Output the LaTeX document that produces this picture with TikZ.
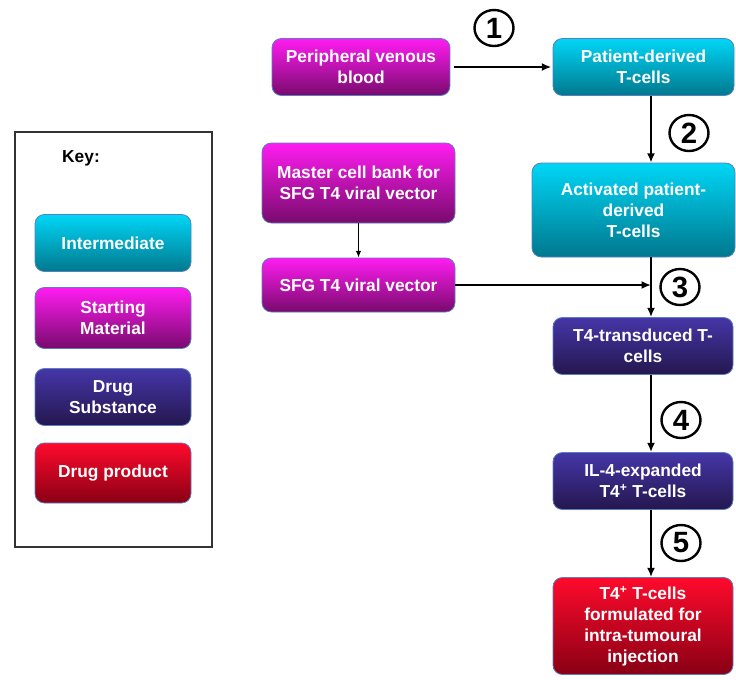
\documentclass[tikz,border=0pt]{standalone}
\usepackage{fontspec}
\setmainfont{Liberation Sans}
\usetikzlibrary{arrows.meta,shapes.geometric}
\definecolor{cyanT}{HTML}{00D6F6}
\definecolor{cyanB}{HTML}{00788E}
\definecolor{magT}{HTML}{FF1CF2}
\definecolor{magB}{HTML}{780A6C}
\definecolor{dsT}{HTML}{4536A8}
\definecolor{dsB}{HTML}{24174E}
\definecolor{redT}{HTML}{FF0A2C}
\definecolor{redB}{HTML}{880014}
\definecolor{edgeC}{HTML}{5A7FC0}
\tikzset{
  boxbase/.style={rounded corners=7pt, draw=edgeC, line width=0.6pt, align=center,
    text=white, font=\bfseries\fontsize{13}{15.8}\selectfont, inner sep=1pt},
  interbox/.style={boxbase, top color=cyanT, bottom color=cyanB},
  startbox/.style={boxbase, top color=magT, bottom color=magB},
  subsbox/.style={boxbase, top color=dsT, bottom color=dsB},
  prodbox/.style={boxbase, top color=redT, bottom color=redB},
  flow/.style={line width=1.6pt, -{Latex[length=7pt,width=6pt]}},
  thinflow/.style={line width=0.8pt, -{Latex[length=5pt,width=4pt]}},
  stepnum/.style={ellipse, draw=black, line width=1.8pt, minimum width=39*0.75pt,
    minimum height=36*0.75pt, inner sep=0pt, font=\bfseries\fontsize{22}{22}\selectfont}
}
\begin{document}
\begin{tikzpicture}[x=0.75pt, y=-0.75pt]
\useasboundingbox (0,0) rectangle (736,679);
% key
\node[draw=black!80, line width=1pt, minimum width=197*0.75pt, minimum height=415*0.75pt, inner sep=0pt] (keybox) at (113.5,339.5) {};
\node[font=\bfseries\fontsize{13}{15}\selectfont] (keylbl) at (81,158) {Key:};
\node[interbox, minimum width=156*0.75pt, minimum height=57*0.75pt] (kint) at (113,243) {Intermediate};
\node[startbox, minimum width=156*0.75pt, minimum height=61*0.75pt] (kst) at (113,318) {Starting\\Material};
\node[subsbox, minimum width=156*0.75pt, minimum height=57*0.75pt] (kds) at (113,397) {Drug\\Substance};
\node[prodbox, minimum width=156*0.75pt, minimum height=60*0.75pt] (kdp) at (113,473) {Drug product};
% flow nodes
\node[startbox, minimum width=178*0.75pt, minimum height=57*0.75pt] (pvb) at (361,67) {Peripheral venous\\blood};
\node[interbox, minimum width=181*0.75pt, minimum height=57*0.75pt] (pdt) at (643.5,67) {Patient-derived\\T-cells};
\node[startbox, minimum width=193*0.75pt, minimum height=80*0.75pt] (mcb) at (358.5,183) {Master cell bank for\\SFG T4 viral vector};
\node[startbox, minimum width=193*0.75pt, minimum height=54*0.75pt] (sfg) at (358.5,285) {SFG T4 viral vector};
\node[interbox, minimum width=203*0.75pt, minimum height=94*0.75pt] (act) at (633.5,210) {Activated patient-\\derived\\T-cells};
\node[subsbox, minimum width=180*0.75pt, minimum height=57*0.75pt] (ttd) at (643,346) {T4-transduced T-\\cells};
\node[subsbox, minimum width=180*0.75pt, minimum height=57*0.75pt] (il4) at (643,481) {IL-4-expanded\\T4\textsuperscript{+} T-cells};
\node[prodbox, minimum width=180*0.75pt, minimum height=97*0.75pt] (fin) at (643,626) {T4\textsuperscript{+} T-cells\\formulated for\\intra-tumoural\\injection};
% column for vertical arrows
\coordinate (col) at (651,0);
\draw[flow] ([xshift=3pt]pvb.east) -- ([xshift=-1pt]pdt.west);
\draw[flow] (pdt.south -| col) -- (act.north -| col);
\draw[thinflow] (mcb.south) -- (sfg.north);
\draw[flow] (act.south -| col) -- (ttd.north -| col);
\draw[flow] (sfg.east) -- (sfg.east -| col);
\draw[flow] (ttd.south -| col) -- (il4.north -| col);
\draw[flow] (il4.south -| col) -- (fin.north -| col);
% step numbers
\node[stepnum] (s1) at (494,28) {1};
\node[stepnum] (s2) at (689,133) {2};
\node[stepnum] (s3) at (680,287) {3};
\node[stepnum] (s4) at (681,420) {4};
\node[stepnum] (s5) at (681,543) {5};
\end{tikzpicture}
\end{document}
